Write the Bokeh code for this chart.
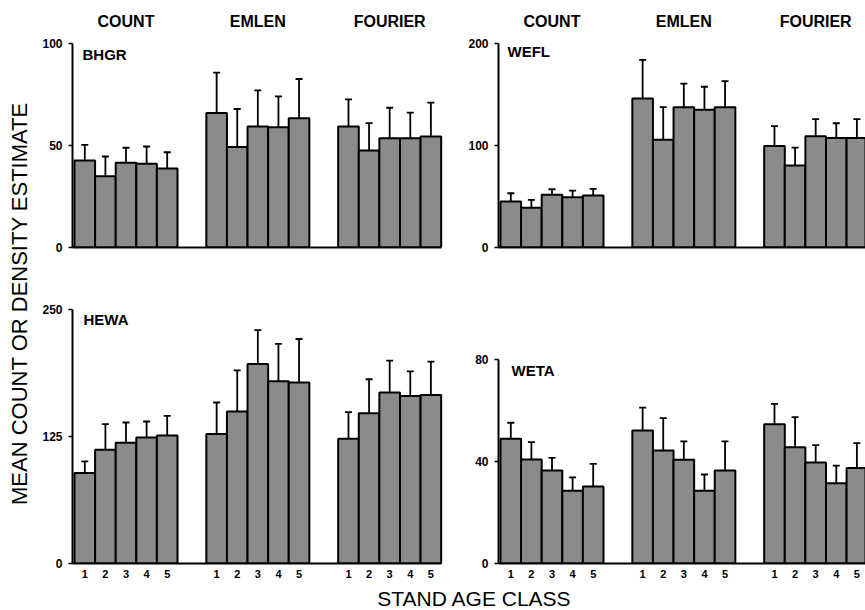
import math
from bokeh.plotting import figure
from bokeh.layouts import row, column
from bokeh.models import FixedTicker, Range1d, CustomJSTickFormatter
from bokeh.core.properties import value
from bokeh.embed import file_html
from bokeh.resources import INLINE

# ---------------- data ----------------
methods = ["COUNT", "EMLEN", "FOURIER"]
age_classes = ["1", "2", "3", "4", "5"]

bhgr_mean = [[42.6, 34.9, 41.6, 41.1, 38.7],
             [65.9, 49.3, 59.3, 59.0, 63.3],
             [59.3, 47.5, 53.6, 53.6, 54.4]]
bhgr_upper = [[50.3, 44.6, 48.9, 49.5, 46.7],
              [85.7, 67.9, 77.0, 74.1, 82.6],
              [72.6, 61.0, 68.5, 66.1, 71.0]]

wefl_mean = [[45.0, 39.0, 51.6, 49.3, 50.9],
             [146.0, 105.7, 137.6, 135.0, 137.6],
             [99.5, 80.5, 109.0, 107.4, 107.4]]
wefl_upper = [[53.2, 46.6, 57.1, 55.8, 57.5],
              [183.9, 137.6, 160.6, 157.6, 163.2],
              [118.9, 97.9, 125.8, 121.8, 125.8]]

hewa_mean = [[89.0, 111.9, 118.8, 124.0, 126.0],
             [127.3, 149.5, 196.3, 179.3, 178.0],
             [122.7, 147.9, 168.2, 164.9, 165.9]]
hewa_upper = [[100.5, 137.1, 138.7, 139.7, 145.3],
              [158.4, 190.1, 229.7, 216.0, 220.9],
              [148.9, 181.3, 199.6, 189.1, 198.6]]

weta_mean = [[48.9, 40.8, 36.5, 28.5, 30.2],
             [52.2, 44.3, 40.7, 28.5, 36.5],
             [54.6, 45.6, 39.6, 31.5, 37.5]]
weta_upper = [[55.2, 47.6, 41.4, 33.8, 39.1],
              [61.1, 57.0, 47.9, 34.9, 47.9],
              [62.6, 57.4, 46.4, 38.4, 47.2]]

bhgr_ticks = [0, 50, 100]
wefl_ticks = [0, 100, 200]
hewa_ticks = [0, 125, 250]
weta_ticks = [0, 40, 80]

y_title = "MEAN COUNT OR DENSITY ESTIMATE"
x_title = "STAND AGE CLASS"

# ---------------- style / layout ----------------
FONT = "Liberation Sans"
BAR_FILL = "#8b8b8b"
PX_PER_UNIT = 20.6      # horizontal pixels per bar
GROUP_STEP = 6.4        # bar widths between group starts
X0 = -0.097
CAP = 0.17


def make_panel(name, means, uppers, ticks, width, height, border_left,
               border_bottom, frame_h, axis_len, label_dx, label_dy,
               top_row, right_col):
    ymax = ticks[-1]
    ppu = axis_len / ymax
    frame_w = width - border_left
    x_end = X0 + frame_w / PX_PER_UNIT
    p = figure(width=width, height=height, output_backend="svg",
               toolbar_location=None,
               x_range=Range1d(X0, x_end),
               y_range=Range1d(0, frame_h / ppu),
               min_border_left=border_left, min_border_right=0,
               min_border_top=0, min_border_bottom=border_bottom)
    p.outline_line_color = None
    p.grid.grid_line_color = None
    p.background_fill_color = "white"
    p.border_fill_color = "white"

    xs, tops, ups = [], [], []
    for g in range(len(methods)):
        for i in range(len(age_classes)):
            xs.append(g * GROUP_STEP + i + 0.5)
            tops.append(means[g][i])
            ups.append(uppers[g][i])

    p.vbar(x=xs, width=1.0, top=tops, bottom=0, fill_color=BAR_FILL,
           line_color="black", line_width=2)
    p.segment(x0=xs, y0=tops, x1=xs, y1=ups, line_color="black",
              line_width=1.8)
    p.segment(x0=[x - CAP for x in xs], y0=ups, x1=[x + CAP for x in xs],
              y1=ups, line_color="black", line_width=1.8)

    # panel label
    p.text(x=[X0 + label_dx / PX_PER_UNIT], y=[(frame_h - label_dy) / ppu],
           text=[name], text_font=value(FONT), text_font_style="bold",
           text_font_size="15px", text_align="left", text_baseline="middle",
           text_color="black")

    if top_row:
        centers = [g * GROUP_STEP + 2.5 for g in range(len(methods))]
        p.text(x=centers, y=[(frame_h - 21) / ppu] * len(methods),
               text=methods, text_font=value(FONT), text_font_style="bold",
               text_font_size="16px", text_align="center",
               text_baseline="middle", text_color="black")

    # y axis
    ya = p.yaxis[0]
    ya.ticker = FixedTicker(ticks=ticks)
    ya.bounds = (0, ymax)
    ya.axis_line_width = 2
    ya.axis_line_color = "black"
    ya.major_tick_out = 4
    ya.major_tick_in = 0
    ya.minor_tick_out = 0
    ya.minor_tick_in = 0
    ya.major_tick_line_width = 1.5
    ya.major_label_standoff = 6
    ya.major_label_text_font = FONT
    ya.major_label_text_font_style = "bold"
    ya.major_label_text_font_size = "12px"
    ya.major_label_text_color = "black"

    # x axis
    xa = p.xaxis[0]
    last = (len(methods) - 1) * GROUP_STEP + len(age_classes)
    xa.bounds = (X0, x_end if right_col else last)
    xa.axis_line_width = 2
    xa.axis_line_color = "black"
    xa.major_tick_out = 0
    xa.major_tick_in = 0
    xa.minor_tick_out = 0
    xa.minor_tick_in = 0
    if top_row:
        xa.ticker = FixedTicker(ticks=[])
        xa.major_label_text_font_size = "0px"
    else:
        labels = age_classes * len(methods)
        xa.ticker = FixedTicker(ticks=xs)
        xa.formatter = CustomJSTickFormatter(
            args=dict(tick_pos=xs, tick_labels=labels),
            code="""
            for (let k = 0; k < tick_pos.length; k++) {
                if (Math.abs(tick_pos[k] - tick) < 1e-6) return tick_labels[k];
            }
            return '';
            """)
        xa.major_label_standoff = 6
        xa.major_label_text_font = FONT
        xa.major_label_text_font_style = "bold"
        xa.major_label_text_font_size = "11px"
        xa.major_label_text_color = "black"
    return p


tl = make_panel("BHGR", bhgr_mean, bhgr_upper, bhgr_ticks, 424, 280, 34, 33,
                247, 204, 10, 54, True, False)
tr = make_panel("WEFL", wefl_mean, wefl_upper, wefl_ticks, 403, 280, 36, 33,
                247, 204, 9, 51, True, True)
bl = make_panel("HEWA", hewa_mean, hewa_upper, hewa_ticks, 424, 304, 34, 20,
                284, 255, 11, 39.5, False, False)
br = make_panel("WETA", weta_mean, weta_upper, weta_ticks, 403, 304, 36, 21,
                283, 204, 13, 89.5, False, True)

# shared y title
yl = figure(width=38, height=610, output_backend="svg", toolbar_location=None,
            x_range=Range1d(0, 38), y_range=Range1d(0, 610),
            x_axis_location=None, y_axis_location=None, min_border=0)
yl.outline_line_color = None
yl.grid.grid_line_color = None
yl.text(x=[19], y=[307], text=[y_title], angle=math.pi / 2,
        text_font=value(FONT), text_font_size="22px", text_align="center",
        text_baseline="middle", text_color="black")

# shared x title
xl = figure(width=827, height=26, output_backend="svg", toolbar_location=None,
            x_range=Range1d(0, 827), y_range=Range1d(0, 26),
            x_axis_location=None, y_axis_location=None, min_border=0)
xl.outline_line_color = None
xl.grid.grid_line_color = None
xl.text(x=[436], y=[12], text=[x_title], text_font=value(FONT),
        text_font_size="21px", text_align="center", text_baseline="middle",
        text_color="black")

layout = row(yl, column(row(tl, tr), row(bl, br), xl))

open("out.html", "w").write(file_html(layout, INLINE))
